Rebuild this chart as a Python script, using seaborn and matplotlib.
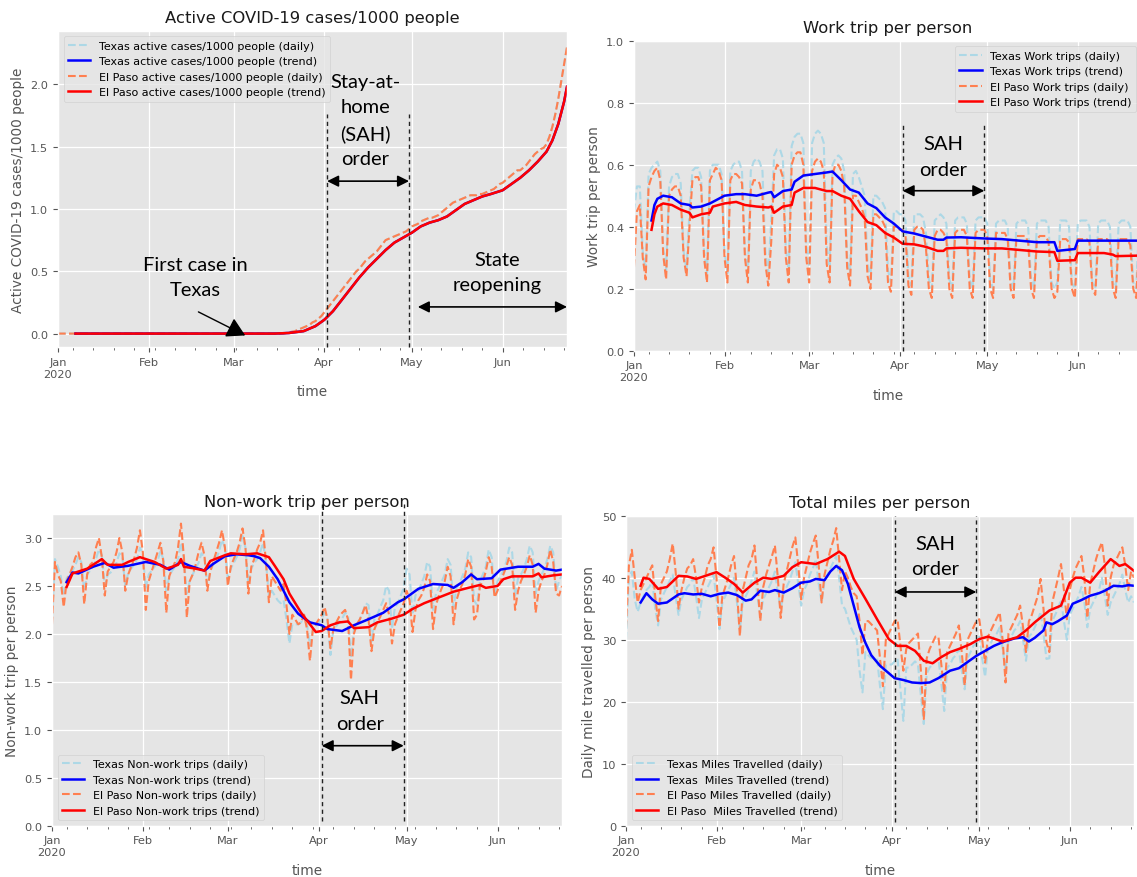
import numpy as np
import pandas as pd
import matplotlib
matplotlib.use("Agg")
import matplotlib.pyplot as plt
import matplotlib.dates as mdates
from matplotlib.ticker import FuncFormatter
import seaborn as sns

# ---------------- data ----------------
dates = pd.date_range("2020-01-01", "2020-06-23", freq="D")

# Active cases / 1000 people (El Paso daily); zero until Mar 17
act_ep_daily = [0.0] * 77 + [
    0.0, 0.005, 0.01, 0.015, 0.02, 0.03, 0.04, 0.05, 0.06, 0.07, 0.09, 0.10, 0.12, 0.14,
    0.17, 0.20, 0.23, 0.26, 0.29, 0.32, 0.35, 0.38, 0.41, 0.44, 0.47, 0.50, 0.52, 0.55,
    0.58, 0.60, 0.62, 0.64, 0.66, 0.69, 0.72, 0.75, 0.76, 0.77, 0.78, 0.79, 0.80, 0.81, 0.82, 0.84,
    0.86, 0.87, 0.88, 0.90, 0.91, 0.92, 0.93, 0.93, 0.94, 0.95, 0.97, 0.99, 1.01, 1.03, 1.05, 1.06,
    1.07, 1.08, 1.09, 1.10, 1.11, 1.11, 1.11, 1.12, 1.12, 1.13, 1.14, 1.15, 1.16, 1.18, 1.20,
    1.21, 1.23, 1.25, 1.27, 1.29, 1.31, 1.31, 1.33, 1.35, 1.38, 1.41, 1.44, 1.46, 1.48, 1.49,
    1.52, 1.58, 1.66, 1.76, 1.88, 2.02, 2.16, 2.30]
act_trend_dates = ["2020-01-07", "2020-03-15", "2020-03-20", "2020-03-25", "2020-03-29", "2020-04-01",
                   "2020-04-04", "2020-04-07", "2020-04-10", "2020-04-13", "2020-04-16", "2020-04-19",
                   "2020-04-22", "2020-04-25", "2020-04-28", "2020-05-01", "2020-05-04", "2020-05-07",
                   "2020-05-10", "2020-05-13", "2020-05-16", "2020-05-19", "2020-05-22", "2020-05-25",
                   "2020-05-28", "2020-06-01", "2020-06-04", "2020-06-07", "2020-06-10", "2020-06-13",
                   "2020-06-16", "2020-06-18", "2020-06-20", "2020-06-22", "2020-06-23"]
act_ep_trend = [0, 0, 0.005, 0.02, 0.06, 0.11, 0.18, 0.27, 0.36, 0.45, 0.53, 0.60, 0.67, 0.73, 0.77,
                0.81, 0.86, 0.89, 0.91, 0.94, 0.99, 1.04, 1.07, 1.10, 1.12, 1.15, 1.20, 1.25, 1.31,
                1.38, 1.46, 1.55, 1.68, 1.86, 1.98]
# Texas curves coincide with (are hidden under) the El Paso curves in the reference
act_tx_daily = act_ep_daily
act_tx_trend = act_ep_trend

# Work trips per person (daily)
work_tx_daily = [
    0.45, 0.53, 0.53, 0.32, 0.26,
    0.57, 0.59, 0.60, 0.61, 0.58, 0.33, 0.26,
    0.53, 0.56, 0.57, 0.57, 0.54, 0.32, 0.26,
    0.45, 0.58, 0.59, 0.59, 0.56, 0.32, 0.25,
    0.58, 0.60, 0.60, 0.60, 0.57, 0.32, 0.25,
    0.58, 0.60, 0.61, 0.61, 0.58, 0.32, 0.25,
    0.58, 0.61, 0.62, 0.61, 0.58, 0.32, 0.25,
    0.42, 0.63, 0.65, 0.65, 0.62, 0.33, 0.26,
    0.66, 0.69, 0.70, 0.70, 0.67, 0.34, 0.27,
    0.67, 0.70, 0.71, 0.70, 0.67, 0.34, 0.27,
    0.60, 0.62, 0.63, 0.62, 0.58, 0.30, 0.25,
    0.57, 0.58, 0.56, 0.53, 0.50, 0.28, 0.23,
    0.50, 0.50, 0.49, 0.48, 0.46, 0.26, 0.22,
    0.45, 0.45, 0.44, 0.44, 0.42, 0.24, 0.21,
    0.44, 0.44, 0.44, 0.43, 0.38, 0.23, 0.20,
    0.42, 0.43, 0.44, 0.43, 0.41, 0.23, 0.20,
    0.42, 0.43, 0.43, 0.43, 0.41, 0.23, 0.20,
    0.42, 0.43, 0.43, 0.43, 0.41, 0.23, 0.20,
    0.41, 0.42, 0.42, 0.42, 0.40, 0.23, 0.20,
    0.41, 0.42, 0.42, 0.42, 0.40, 0.23, 0.20,
    0.41, 0.42, 0.42, 0.42, 0.40, 0.22, 0.20,
    0.22, 0.42, 0.42, 0.42, 0.40, 0.22, 0.20,
    0.41, 0.42, 0.42, 0.42, 0.40, 0.22, 0.20,
    0.41, 0.42, 0.42, 0.42, 0.40, 0.22, 0.20,
    0.41, 0.42, 0.42, 0.42, 0.40, 0.22, 0.20,
    0.41, 0.42]
work_ep_daily = [
    0.27, 0.45, 0.47, 0.30, 0.23,
    0.53, 0.56, 0.58, 0.59, 0.55, 0.31, 0.23,
    0.50, 0.52, 0.53, 0.53, 0.50, 0.30, 0.24,
    0.40, 0.55, 0.56, 0.56, 0.53, 0.30, 0.22,
    0.55, 0.57, 0.59, 0.58, 0.55, 0.30, 0.22,
    0.55, 0.57, 0.57, 0.56, 0.54, 0.30, 0.22,
    0.52, 0.55, 0.55, 0.54, 0.50, 0.28, 0.21,
    0.35, 0.57, 0.60, 0.59, 0.56, 0.30, 0.22,
    0.60, 0.63, 0.64, 0.64, 0.60, 0.30, 0.22,
    0.58, 0.61, 0.62, 0.61, 0.58, 0.28, 0.22,
    0.57, 0.60, 0.60, 0.58, 0.53, 0.27, 0.21,
    0.50, 0.50, 0.48, 0.46, 0.43, 0.24, 0.20,
    0.44, 0.44, 0.43, 0.42, 0.40, 0.22, 0.19,
    0.40, 0.40, 0.39, 0.39, 0.37, 0.21, 0.18,
    0.39, 0.40, 0.40, 0.39, 0.33, 0.20, 0.17,
    0.37, 0.39, 0.39, 0.38, 0.36, 0.20, 0.17,
    0.38, 0.39, 0.39, 0.39, 0.37, 0.20, 0.17,
    0.38, 0.39, 0.39, 0.39, 0.37, 0.20, 0.17,
    0.38, 0.38, 0.38, 0.38, 0.36, 0.20, 0.17,
    0.37, 0.37, 0.37, 0.37, 0.35, 0.20, 0.17,
    0.36, 0.37, 0.37, 0.37, 0.35, 0.20, 0.17,
    0.19, 0.36, 0.36, 0.36, 0.35, 0.20, 0.17,
    0.36, 0.36, 0.36, 0.36, 0.35, 0.20, 0.18,
    0.36, 0.36, 0.36, 0.36, 0.35, 0.20, 0.17,
    0.36, 0.36, 0.36, 0.36, 0.34, 0.20, 0.17,
    0.34, 0.36]
work_trend_dates = ["2020-01-07", "2020-01-08", "2020-01-09", "2020-01-11", "2020-01-14", "2020-01-17",
                    "2020-01-20", "2020-01-21", "2020-01-24", "2020-01-27", "2020-01-28", "2020-02-01",
                    "2020-02-05", "2020-02-08", "2020-02-12", "2020-02-16", "2020-02-17", "2020-02-18",
                    "2020-02-21", "2020-02-24", "2020-02-25", "2020-02-28", "2020-03-03", "2020-03-07",
                    "2020-03-09", "2020-03-12", "2020-03-15", "2020-03-18", "2020-03-21", "2020-03-24",
                    "2020-03-27", "2020-03-30", "2020-04-02", "2020-04-06", "2020-04-10", "2020-04-14",
                    "2020-04-16", "2020-04-17", "2020-04-22", "2020-04-30", "2020-05-06", "2020-05-12",
                    "2020-05-18", "2020-05-24", "2020-05-25", "2020-05-31", "2020-06-01", "2020-06-10",
                    "2020-06-13", "2020-06-14", "2020-06-23"]
work_tx_trend = [0.42, 0.47, 0.49, 0.50, 0.495, 0.475, 0.47, 0.462, 0.465, 0.475, 0.48, 0.50,
                 0.505, 0.505, 0.50, 0.51, 0.512, 0.495, 0.515, 0.52, 0.545, 0.565, 0.57, 0.575,
                 0.578, 0.55, 0.52, 0.51, 0.475, 0.46, 0.43, 0.41, 0.385, 0.378, 0.368, 0.358,
                 0.358, 0.365, 0.366, 0.362, 0.36, 0.355, 0.35, 0.35, 0.322, 0.328, 0.355, 0.355,
                 0.355, 0.355, 0.355]
work_ep_trend = [0.39, 0.44, 0.465, 0.475, 0.47, 0.455, 0.445, 0.43, 0.44, 0.445, 0.465, 0.475,
                 0.48, 0.47, 0.465, 0.462, 0.465, 0.445, 0.465, 0.47, 0.51, 0.525, 0.525, 0.515,
                 0.515, 0.50, 0.49, 0.45, 0.415, 0.405, 0.38, 0.365, 0.345, 0.343, 0.335, 0.322,
                 0.322, 0.33, 0.332, 0.33, 0.33, 0.325, 0.32, 0.318, 0.29, 0.292, 0.315, 0.315,
                 0.31, 0.305, 0.307]

# Non-work trips per person (daily)
nonwork_tx_daily = [
    2.15, 2.78, 2.70, 2.60, 2.40,
    2.58, 2.62, 2.66, 2.72, 2.80, 2.75, 2.45,
    2.62, 2.66, 2.70, 2.78, 2.88, 2.82, 2.50,
    2.62, 2.64, 2.68, 2.74, 2.84, 2.80, 2.50,
    2.64, 2.68, 2.72, 2.78, 2.90, 2.82, 2.48,
    2.62, 2.66, 2.70, 2.76, 2.86, 2.78, 2.45,
    2.60, 2.66, 2.70, 2.78, 2.95, 2.78, 2.42,
    2.55, 2.62, 2.68, 2.74, 2.84, 2.80, 2.50,
    2.66, 2.72, 2.78, 2.86, 2.98, 2.90, 2.58,
    2.68, 2.74, 2.80, 2.88, 3.02, 2.90, 2.52,
    2.68, 2.74, 2.78, 2.85, 2.95, 2.75, 2.40,
    2.45, 2.40, 2.35, 2.32, 2.35, 2.15, 1.90,
    2.10, 2.10, 2.10, 2.12, 2.20, 2.10, 1.88,
    2.05, 2.08, 2.12, 2.16, 2.22, 2.15, 1.78,
    2.05, 2.08, 2.12, 2.16, 2.22, 2.20, 1.75,
    2.05, 2.10, 2.15, 2.22, 2.32, 2.30, 1.92,
    2.15, 2.20, 2.28, 2.35, 2.50, 2.45, 2.05,
    2.28, 2.32, 2.40, 2.48, 2.68, 2.62, 2.20,
    2.40, 2.45, 2.52, 2.60, 2.75, 2.70, 2.25,
    2.42, 2.48, 2.55, 2.62, 2.78, 2.72, 2.28,
    2.48, 2.52, 2.60, 2.68, 2.85, 2.80, 2.35,
    2.30, 2.55, 2.62, 2.70, 2.88, 2.80, 2.40,
    2.55, 2.60, 2.66, 2.75, 2.90, 2.85, 2.40,
    2.58, 2.62, 2.68, 2.78, 2.92, 2.85, 2.42,
    2.55, 2.62, 2.68, 2.78, 2.92, 2.85, 2.45,
    2.55, 2.62]
nonwork_ep_daily = [
    2.10, 2.75, 2.62, 2.55, 2.28,
    2.55, 2.62, 2.70, 2.80, 2.85, 2.72, 2.31,
    2.62, 2.72, 2.75, 2.90, 3.00, 2.80, 2.40,
    2.65, 2.70, 2.75, 2.85, 3.00, 2.85, 2.45,
    2.62, 2.70, 2.78, 2.90, 3.08, 2.85, 2.25,
    2.55, 2.65, 2.75, 2.85, 2.95, 2.75, 2.22,
    2.60, 2.68, 2.75, 2.90, 3.15, 2.80, 2.17,
    2.55, 2.62, 2.72, 2.85, 2.95, 2.82, 2.45,
    2.65, 2.75, 2.85, 2.95, 3.08, 2.90, 2.50,
    2.70, 2.78, 2.85, 2.95, 3.10, 2.90, 2.42,
    2.70, 2.78, 2.88, 2.95, 3.08, 2.75, 2.33,
    2.60, 2.55, 2.50, 2.45, 2.52, 2.30, 2.00,
    2.20, 2.15, 2.10, 2.12, 2.20, 2.05, 1.72,
    2.05, 2.10, 2.15, 2.20, 2.28, 2.15, 1.85,
    2.05, 2.12, 2.18, 2.22, 2.25, 2.15, 1.52,
    2.00, 2.10, 2.15, 2.22, 2.30, 2.15, 1.82,
    2.05, 2.12, 2.18, 2.25, 2.32, 2.20, 1.90,
    2.10, 2.18, 2.25, 2.32, 2.45, 2.35, 2.02,
    2.25, 2.35, 2.40, 2.48, 2.62, 2.55, 2.05,
    2.30, 2.40, 2.48, 2.55, 2.70, 2.60, 2.10,
    2.35, 2.45, 2.52, 2.62, 2.78, 2.70, 2.15,
    2.20, 2.50, 2.55, 2.65, 2.80, 2.70, 2.38,
    2.45, 2.55, 2.62, 2.70, 2.80, 2.72, 2.25,
    2.45, 2.55, 2.62, 2.70, 2.82, 2.72, 2.22,
    2.45, 2.55, 2.62, 2.72, 2.88, 2.75, 2.42,
    2.40, 2.50]
nonwork_tx_trend_dates = ["2020-01-06", "2020-01-08", "2020-01-10", "2020-01-15", "2020-01-19", "2020-01-22",
                          "2020-01-27", "2020-02-02", "2020-02-07", "2020-02-10", "2020-02-14", "2020-02-17",
                          "2020-02-22", "2020-02-25", "2020-02-29", "2020-03-04", "2020-03-08", "2020-03-10",
                          "2020-03-12", "2020-03-15", "2020-03-18", "2020-03-22", "2020-03-25", "2020-03-29",
                          "2020-04-02", "2020-04-04", "2020-04-09", "2020-04-13", "2020-04-17", "2020-04-23",
                          "2020-04-28", "2020-04-30", "2020-05-05", "2020-05-10", "2020-05-15", "2020-05-17",
                          "2020-05-20", "2020-05-23", "2020-05-25", "2020-05-30", "2020-06-02", "2020-06-08",
                          "2020-06-13", "2020-06-15", "2020-06-17", "2020-06-21", "2020-06-23"]
nonwork_tx_trend = [2.54, 2.64, 2.63, 2.70, 2.74, 2.69, 2.71, 2.75, 2.72, 2.67, 2.75, 2.71, 2.66, 2.73,
                    2.81, 2.83, 2.82, 2.81, 2.79, 2.70, 2.57, 2.33, 2.21, 2.12, 2.09, 2.05, 2.03, 2.09,
                    2.14, 2.22, 2.33, 2.36, 2.47, 2.52, 2.51, 2.48, 2.54, 2.62, 2.57, 2.58, 2.67, 2.70,
                    2.70, 2.73, 2.68, 2.66, 2.67]
nonwork_ep_trend_dates = ["2020-01-06", "2020-01-08", "2020-01-13", "2020-01-18", "2020-01-20", "2020-01-25",
                          "2020-01-27", "2020-01-31", "2020-02-05", "2020-02-09", "2020-02-13", "2020-02-14",
                          "2020-02-15", "2020-02-19", "2020-02-22", "2020-02-24", "2020-02-29", "2020-03-02",
                          "2020-03-07", "2020-03-11", "2020-03-15", "2020-03-17", "2020-03-20", "2020-03-22",
                          "2020-03-26", "2020-03-29", "2020-03-31", "2020-04-02", "2020-04-05", "2020-04-08",
                          "2020-04-11", "2020-04-13", "2020-04-18", "2020-04-21", "2020-04-26", "2020-04-30",
                          "2020-05-03", "2020-05-07", "2020-05-12", "2020-05-17", "2020-05-22", "2020-05-26",
                          "2020-05-28", "2020-06-01", "2020-06-03", "2020-06-06", "2020-06-13", "2020-06-15",
                          "2020-06-16", "2020-06-20", "2020-06-23"]
nonwork_ep_trend = [2.49, 2.63, 2.68, 2.78, 2.72, 2.72, 2.75, 2.80, 2.75, 2.68, 2.72, 2.78, 2.70, 2.68,
                    2.66, 2.76, 2.82, 2.84, 2.83, 2.84, 2.80, 2.71, 2.57, 2.42, 2.22, 2.10, 2.02, 2.03,
                    2.09, 2.12, 2.13, 2.06, 2.07, 2.12, 2.16, 2.20, 2.26, 2.32, 2.38, 2.44, 2.48, 2.51,
                    2.48, 2.50, 2.57, 2.60, 2.60, 2.63, 2.59, 2.61, 2.62]

# Daily miles travelled per person (daily)
miles_tx_daily = [
    30.0, 40.0, 41.0, 36.5, 34.5,
    36.0, 37.0, 38.0, 38.5, 39.5, 35.0, 32.3,
    36.5, 37.5, 38.5, 39.5, 40.5, 37.0, 34.0,
    36.5, 37.5, 38.5, 39.0, 40.0, 37.0, 33.5,
    36.5, 37.5, 38.5, 39.5, 40.5, 36.5, 31.7,
    36.0, 37.0, 38.0, 39.0, 40.0, 36.0, 31.5,
    36.0, 37.0, 38.0, 39.5, 41.0, 37.0, 34.0,
    36.5, 37.5, 38.5, 39.5, 41.0, 37.5, 35.0,
    37.5, 38.5, 39.5, 41.0, 42.5, 39.0, 35.5,
    38.0, 39.0, 40.5, 41.5, 43.0, 39.0, 36.0,
    39.5, 40.5, 41.5, 42.5, 43.5, 40.0, 35.5,
    35.0, 33.5, 32.0, 31.0, 30.0, 25.0, 21.5,
    28.0, 27.5, 27.0, 27.0, 27.0, 22.5, 18.8,
    26.0, 26.0, 26.0, 26.5, 27.0, 22.0, 16.9,
    25.5, 25.5, 26.0, 26.5, 26.0, 21.0, 16.4,
    24.5, 25.5, 26.0, 26.5, 27.0, 23.0, 18.5,
    25.5, 26.0, 27.0, 27.5, 28.5, 25.0, 22.0,
    27.0, 28.0, 29.0, 29.5, 30.5, 27.0, 24.0,
    29.0, 29.5, 30.5, 31.0, 32.0, 28.5, 25.0,
    30.0, 30.5, 31.5, 32.0, 33.0, 30.0, 26.6,
    30.5, 31.0, 32.0, 33.0, 34.5, 31.0, 26.9,
    27.0, 33.0, 34.0, 35.0, 36.5, 33.0, 30.0,
    34.0, 35.0, 36.0, 37.0, 38.5, 36.0, 32.0,
    35.0, 36.0, 37.0, 38.0, 40.0, 37.0, 34.0,
    36.0, 37.0, 38.0, 39.0, 40.5, 38.0, 36.0,
    37.0, 36.0]
miles_ep_daily = [
    32.0, 42.0, 44.5, 40.0, 36.0,
    38.0, 39.0, 40.0, 41.0, 42.0, 37.0, 33.0,
    39.0, 40.0, 41.0, 43.0, 45.5, 41.0, 35.0,
    38.0, 40.0, 41.5, 42.0, 43.0, 40.0, 36.0,
    38.5, 40.0, 42.0, 43.0, 44.9, 40.0, 32.0,
    37.0, 38.5, 40.0, 42.0, 43.5, 38.0, 30.6,
    38.0, 40.0, 42.0, 43.0, 45.2, 39.0, 33.0,
    38.5, 40.5, 42.0, 43.5, 45.2, 40.0, 33.5,
    39.0, 41.0, 43.0, 45.0, 46.5, 42.0, 36.5,
    40.0, 42.0, 44.0, 45.5, 46.8, 42.0, 36.0,
    40.5, 42.5, 44.5, 46.0, 48.0, 43.0, 38.0,
    41.0, 40.0, 38.5, 37.5, 37.0, 33.0, 27.5,
    33.0, 33.0, 32.5, 32.0, 31.5, 27.0, 22.5,
    30.0, 31.0, 32.0, 33.0, 33.3, 29.0, 25.0,
    28.5, 29.5, 30.0, 30.5, 31.0, 25.0, 17.2,
    27.0, 28.5, 29.5, 30.5, 30.5, 26.0, 21.5,
    28.0, 29.0, 30.0, 31.0, 32.3, 28.0, 22.6,
    30.0, 31.0, 32.0, 33.0, 33.3, 30.0, 26.3,
    30.5, 31.5, 32.5, 33.5, 34.4, 30.0, 23.1,
    31.0, 32.0, 33.0, 34.0, 35.5, 32.0, 28.0,
    33.0, 34.0, 35.5, 37.0, 39.8, 35.0, 29.6,
    28.0, 36.0, 38.0, 40.0, 42.2, 38.0, 33.3,
    38.0, 40.0, 41.5, 42.5, 43.5, 40.0, 33.5,
    39.0, 41.0, 43.0, 44.5, 45.7, 42.0, 35.5,
    40.0, 42.0, 43.0, 44.0, 44.9, 42.0, 38.0,
    41.0, 40.0]
miles_tx_trend_dates = ["2020-01-06", "2020-01-08", "2020-01-10", "2020-01-12", "2020-01-15", "2020-01-19",
                        "2020-01-21", "2020-01-24", "2020-01-27", "2020-01-30", "2020-02-02", "2020-02-05",
                        "2020-02-08", "2020-02-11", "2020-02-13", "2020-02-16", "2020-02-19", "2020-02-21",
                        "2020-02-24", "2020-02-27", "2020-03-01", "2020-03-04", "2020-03-06", "2020-03-09",
                        "2020-03-11", "2020-03-13", "2020-03-15", "2020-03-17", "2020-03-19", "2020-03-21",
                        "2020-03-23", "2020-03-25", "2020-03-28", "2020-03-31", "2020-04-02", "2020-04-05",
                        "2020-04-08", "2020-04-11", "2020-04-14", "2020-04-17", "2020-04-21", "2020-04-24",
                        "2020-04-27", "2020-04-30", "2020-05-03", "2020-05-06", "2020-05-09", "2020-05-13",
                        "2020-05-16", "2020-05-18", "2020-05-20", "2020-05-23", "2020-05-24", "2020-05-26",
                        "2020-05-28", "2020-05-31", "2020-06-02", "2020-06-05", "2020-06-08", "2020-06-11",
                        "2020-06-13", "2020-06-16", "2020-06-19", "2020-06-21", "2020-06-23"]
miles_tx_trend = [36.0, 37.5, 36.5, 35.8, 36.0, 37.3, 37.5, 37.3, 37.4, 37.0, 37.4, 37.6, 37.2, 36.3,
                  36.5, 37.9, 37.7, 38.0, 37.6, 38.3, 39.2, 39.4, 39.8, 39.6, 41.0, 41.9, 41.2, 39.0,
                  35.5, 32.0, 29.5, 27.5, 25.8, 24.6, 23.8, 23.5, 23.1, 23.0, 23.1, 23.8, 25.0, 25.4,
                  26.4, 27.4, 28.2, 29.0, 29.6, 30.2, 30.4, 29.7, 30.3, 31.5, 32.8, 32.5, 33.0, 33.9,
                  35.8, 36.4, 37.1, 37.5, 37.9, 38.7, 38.6, 38.8, 38.7]
miles_ep_trend_dates = ["2020-01-06", "2020-01-07", "2020-01-09", "2020-01-12", "2020-01-15", "2020-01-19",
                        "2020-01-22", "2020-01-25", "2020-02-01", "2020-02-04", "2020-02-07", "2020-02-10",
                        "2020-02-14", "2020-02-17", "2020-02-20", "2020-02-24", "2020-02-27", "2020-03-01",
                        "2020-03-06", "2020-03-10", "2020-03-14", "2020-03-16", "2020-03-19", "2020-03-23",
                        "2020-03-27", "2020-03-31", "2020-04-03", "2020-04-06", "2020-04-09", "2020-04-12",
                        "2020-04-15", "2020-04-18", "2020-04-21", "2020-04-24", "2020-04-28", "2020-05-01",
                        "2020-05-04", "2020-05-09", "2020-05-14", "2020-05-17", "2020-05-20", "2020-05-25",
                        "2020-05-29", "2020-06-01", "2020-06-03", "2020-06-05", "2020-06-08", "2020-06-11",
                        "2020-06-15", "2020-06-18", "2020-06-20", "2020-06-23"]
miles_ep_trend = [38.7, 40.0, 39.8, 38.2, 38.5, 40.3, 40.2, 39.8, 40.9, 40.0, 39.0, 37.6, 39.2, 40.0,
                  39.8, 40.3, 41.7, 42.5, 42.2, 43.0, 44.2, 43.5, 39.8, 36.6, 33.3, 30.1, 29.0, 29.0,
                  28.2, 26.6, 26.2, 27.2, 28.0, 28.5, 29.3, 30.1, 30.5, 29.7, 30.4, 31.5, 32.8, 34.7,
                  35.5, 39.2, 40.0, 40.0, 39.2, 40.9, 43.0, 41.9, 42.2, 41.1]

titles = ["Active COVID-19 cases/1000 people", "Work trip per person",
          "Non-work trip per person", "Total miles per person"]
ylabels = ["Active COVID-19 cases/1000 people", "Work trip per person",
           "Non-work trip per person", "Daily mile travelled per person"]
legend_labels = [
    ["Texas active cases/1000 people (daily)", "Texas active cases/1000 people (trend)",
     "El Paso active cases/1000 people (daily)", "El Paso active cases/1000 people (trend)"],
    ["Texas Work trips (daily)", "Texas Work trips (trend)",
     "El Paso Work trips (daily)", "El Paso Work trips (trend)"],
    ["Texas Non-work trips (daily)", "Texas Non-work trips (trend)",
     "El Paso Non-work trips (daily)", "El Paso Non-work trips (trend)"],
    ["Texas Miles Travelled (daily)", "Texas  Miles Travelled (trend)",
     "El Paso Miles Travelled (daily)", "El Paso  Miles Travelled (trend)"],
]
sah_start, sah_end = "2020-04-02", "2020-04-30"

# ---------------- style ----------------
plt.style.use("ggplot")
plt.rcParams["font.family"] = ["DejaVu Sans"]
plt.rcParams["axes.titlesize"] = 11.8
plt.rcParams["axes.labelsize"] = 9.8
plt.rcParams["xtick.labelsize"] = 8.2
plt.rcParams["ytick.labelsize"] = 8.2
plt.rcParams["axes.titlecolor"] = "#1a1a1a"

C_TXD, C_TX, C_EPD, C_EP = "#ADD8E6", "#0000FF", "#FF7F50", "#FF0000"
ANN = dict(family="Lato", fontsize=14.5, color="black", ha="center", va="center", linespacing=1.6)

fig = plt.figure(figsize=(11.37, 8.78), dpi=100)
W, H = 1137.0, 878.0


def add_ax(l, r, t, b):
    return fig.add_axes([l / W, 1 - b / H, (r - l) / W, (b - t) / H])


ax_tl = add_ax(58, 567, 31.7, 348.3)
ax_tr = add_ax(634, 1142, 41.7, 351.7)
ax_bl = add_ax(52, 562, 515, 826.7)
ax_br = add_ax(626, 1134, 516.7, 826.7)


def month_fmt(x, pos):
    d = mdates.num2date(x)
    return d.strftime("%b") + ("\n2020" if d.month == 1 else "")


def draw_panel(ax, txd, txt_dates, txt, epd, ept_dates, ept, labels, title, ylabel, ylim, loc):
    h = []
    sns.lineplot(x=dates, y=txd, ax=ax, color=C_TXD, linestyle="--", linewidth=1.5,
                 estimator=None, errorbar=None)
    h.append(ax.lines[-1])
    sns.lineplot(x=dates, y=epd, ax=ax, color=C_EPD, linestyle="--", linewidth=1.5,
                 estimator=None, errorbar=None)
    h_epd = ax.lines[-1]
    sns.lineplot(x=pd.to_datetime(txt_dates), y=txt, ax=ax, color=C_TX, linewidth=1.8,
                 estimator=None, errorbar=None)
    h.append(ax.lines[-1])
    h.append(h_epd)
    sns.lineplot(x=pd.to_datetime(ept_dates), y=ept, ax=ax, color=C_EP, linewidth=1.8,
                 estimator=None, errorbar=None)
    h.append(ax.lines[-1])
    ax.set_xlim(dates[0], dates[-1])
    ax.set_ylim(*ylim)
    ax.xaxis.set_major_locator(mdates.MonthLocator())
    ax.xaxis.set_minor_locator(mdates.WeekdayLocator(byweekday=mdates.MO))
    ax.xaxis.set_major_formatter(FuncFormatter(month_fmt))
    ax.tick_params(axis="x", which="major", length=3.5)
    ax.tick_params(axis="x", which="minor", length=2)
    ax.grid(True, which="major", color="white", linewidth=0.9)
    ax.grid(False, which="minor")
    ax.set_title(title)
    ax.set_xlabel("time")
    ax.set_ylabel(ylabel)
    ax.legend(h, labels, loc=loc, fontsize=8)
    for lbl in ax.get_xticklabels():
        lbl.set_ha("center")


draw_panel(ax_tl, act_tx_daily, act_trend_dates, act_tx_trend, act_ep_daily, act_trend_dates,
           act_ep_trend, legend_labels[0], titles[0], ylabels[0], (-0.11, 2.43), "upper left")
draw_panel(ax_tr, work_tx_daily, work_trend_dates, work_tx_trend, work_ep_daily, work_trend_dates,
           work_ep_trend, legend_labels[1], titles[1], ylabels[1], (0, 1.0), "upper right")
draw_panel(ax_bl, nonwork_tx_daily, nonwork_tx_trend_dates, nonwork_tx_trend, nonwork_ep_daily,
           nonwork_ep_trend_dates, nonwork_ep_trend, legend_labels[2], titles[2], ylabels[2],
           (0, 3.25), "lower left")
draw_panel(ax_br, miles_tx_daily, miles_tx_trend_dates, miles_tx_trend, miles_ep_daily,
           miles_ep_trend_dates, miles_ep_trend, legend_labels[3], titles[3], ylabels[3],
           (0, 50), "lower left")

ax_tr.set_yticks([0.0, 0.2, 0.4, 0.6, 0.8, 1.0])
ax_bl.set_yticks([0.0, 0.5, 1.0, 1.5, 2.0, 2.5, 3.0])
ax_tl.set_yticks([0.0, 0.5, 1.0, 1.5, 2.0])


def dn(s):
    return mdates.date2num(pd.Timestamp(s))


VL = dict(color="#222222", linestyle=(0, (3, 2.5)), linewidth=1.0, clip_on=False, zorder=5)
DARROW = dict(arrowstyle="<|-|>", color="black", lw=1.2, mutation_scale=17, shrinkA=0, shrinkB=0)


def sah(ax, ymin, ymax, arrow_y, text_x, text_y, text):
    ax.axvline(dn(sah_start), ymin=ymin, ymax=ymax, **VL)
    ax.axvline(dn(sah_end), ymin=ymin, ymax=ymax, **VL)
    ax.annotate("", xy=(dn(sah_end), arrow_y), xytext=(dn(sah_start), arrow_y),
                arrowprops=DARROW, annotation_clip=False)
    ax.text(dn(text_x), text_y, text, **ANN)


sah(ax_tl, 0.0, 0.737, 1.223, "2020-04-15", 1.713, "Stay-at-\nhome\n(SAH)\norder")
sah(ax_tr, 0.0, 0.731, 0.516, "2020-04-16", 0.627, "SAH\norder")
sah(ax_bl, 0.016, 1.032, 0.834, "2020-04-15", 1.20, "SAH\norder")
sah(ax_br, 0.011, 1.0, 37.7, "2020-04-16", 43.5, "SAH\norder")

# First case in Texas
ax_tl.text(dn("2020-02-17"), 0.455, "First case in\nTexas", **ANN)
ax_tl.annotate("", xy=(dn("2020-03-05"), -0.015), xytext=(dn("2020-02-18"), 0.174),
               arrowprops=dict(arrowstyle="-|>,head_length=0.7,head_width=0.4", color="black",
                               lw=1.0, mutation_scale=16, shrinkA=0, shrinkB=0))
# State reopening
ax_tl.text(dn("2020-05-30"), 0.495, "State\nreopening", **ANN)
ax_tl.annotate("", xy=(dn("2020-06-23"), 0.214), xytext=(dn("2020-05-03"), 0.214),
               arrowprops=DARROW, annotation_clip=False)

fig.savefig("out.png", dpi=100)
